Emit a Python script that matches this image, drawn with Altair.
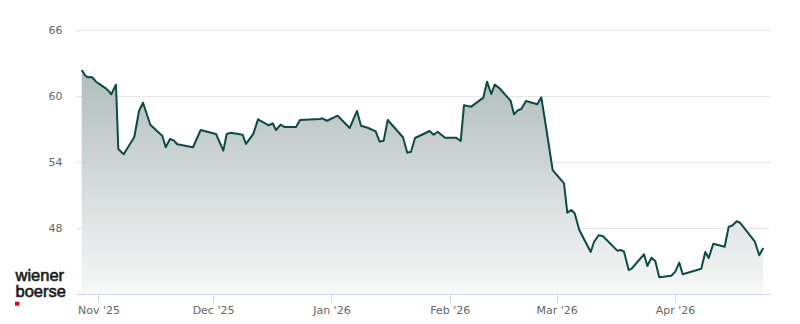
import altair as alt
import pandas as pd

# Days since 1 Nov 2025 and closing prices
days_since_nov1 = [
    -4.40, -3.54, -2.83, -2.04, -1.52, -0.65, 0.47, 1.89, 2.57, 3.35, 3.98, 4.58,
    5.19, 6.60, 9.38, 10.61, 11.66, 13.57, 15.24, 16.71, 17.60, 18.73, 19.70, 20.64,
    24.75, 26.77, 30.78, 32.69, 33.58, 34.63, 37.77, 38.63, 40.54, 41.78, 44.58,
    45.63, 46.49, 47.72, 48.77, 51.73, 52.78, 58.01, 58.62, 59.85, 62.65, 65.79,
    67.71, 68.75, 70.67, 72.60, 73.65, 74.70, 75.75, 79.75, 80.88, 81.85, 82.90,
    86.75, 87.80, 88.84, 90.75, 93.64, 94.87, 95.73, 97.64, 100.79, 101.76, 102.88,
    103.77, 104.98, 107.96, 108.83, 109.87, 110.74, 111.97, 114.93, 115.98, 117.34,
    118.96, 121.92, 122.79, 123.83, 124.72, 125.93, 128.92, 129.78, 131.01, 132.06,
    135.88, 136.77, 137.64, 138.87, 139.73, 142.88, 143.76, 144.81, 145.83, 146.88,
    150.02, 151.07, 152.12, 153.01, 157.88, 158.93, 159.82, 161.03, 164.01, 165.06,
    165.92, 167.16, 168.02, 171.87, 173.07, 174.12,
]
prices = [
    62.36, 61.88, 61.70, 61.73, 61.66, 61.30, 61.03, 60.70, 60.48, 60.15, 60.61, 61.03,
    55.18, 54.70, 56.27, 58.64, 59.39, 57.39, 56.85, 56.39, 55.34, 56.09, 55.97, 55.61,
    55.34, 56.91, 56.55, 55.03, 56.55, 56.66, 56.48, 55.64, 56.55, 57.88, 57.34,
    57.52, 56.91, 57.39, 57.18, 57.18, 57.82, 57.91, 57.97, 57.75, 58.21, 57.09,
    58.64, 57.30, 57.09, 56.79, 55.85, 55.94, 57.82, 56.25, 54.85, 54.94, 56.18,
    56.82, 56.48, 56.75, 56.21, 56.21, 55.91, 59.15, 59.03, 59.85, 61.30, 60.18,
    61.03, 60.73, 59.55, 58.34, 58.70, 58.82, 59.55, 59.25, 59.88, 56.91,
    53.27, 52.06, 49.39, 49.64, 49.34, 47.82, 45.82, 46.73, 47.34, 47.27,
    45.94, 46.00, 45.85, 44.18, 44.34, 45.61, 44.55, 45.30, 45.00, 43.52,
    43.66, 44.03, 44.85, 43.79, 44.30, 45.82, 45.27, 46.57, 46.30, 48.12,
    48.21, 48.61, 48.48, 46.79, 45.52, 46.18,
]
y_ticks = [48, 54, 60, 66]
month_ticks = [(2025, 11), (2025, 12), (2026, 1), (2026, 2), (2026, 3), (2026, 4)]
logo_lines = ["wiener", "boerse"]

base = pd.Timestamp("2025-11-01")
dates = [(base + pd.to_timedelta(d, unit="D")).strftime("%Y-%m-%dT%H:%M:%SZ") for d in days_since_nov1]
df = pd.DataFrame({"date": dates, "price": prices})

LINE = "#0e4a45"
x_scale = alt.Scale(
    type="utc",
    domain=[
        alt.DateTime(year=2025, month=10, date=25, hours=20, minutes=17, utc=True),
        alt.DateTime(year=2026, month=4, date=25, hours=21, minutes=7, utc=True),
    ],
)
y_scale = alt.Scale(domain=[42, 66], zero=False, nice=False)

x_axis = alt.Axis(
    values=[alt.DateTime(year=y, month=m, date=1, utc=True) for y, m in month_ticks],
    format="%b '%y",
    title=None,
    grid=False,
    domainColor="#ccd6eb",
    domainWidth=1,
    tickColor="#ccd6eb",
    tickSize=8,
    labelPadding=2,
    labelColor="#666666",
    labelFont="DejaVu Sans",
    labelFontSize=11,
    labelOverlap=False,
)
y_axis = alt.Axis(
    values=y_ticks,
    title=None,
    domain=False,
    ticks=False,
    tickSize=0,
    labelPadding=13,
    labelColor="#666666",
    labelFont="DejaVu Sans",
    labelFontSize=11,
    gridColor="#e6e6e6",
    gridWidth=1,
)

base_chart = alt.Chart(df)

area = base_chart.mark_area(
    color=alt.Gradient(
        gradient="linear",
        stops=[
            alt.GradientStop(color="#b0bdbb", offset=0),
            alt.GradientStop(color="#f7f8f8", offset=1),
        ],
        x1=0, x2=0, y1=0, y2=1,
    )
).encode(
    x=alt.X("date:T", scale=x_scale, axis=x_axis),
    y=alt.Y("price:Q", scale=y_scale, axis=y_axis),
    y2=alt.datum(42),
)

line = base_chart.mark_line(color=LINE, strokeWidth=2, strokeJoin="round").encode(
    x=alt.X("date:T", scale=x_scale),
    y=alt.Y("price:Q", scale=y_scale),
)

logo_data = alt.Data(values=[{"a": 1}])
logo_style = dict(
    align="left", baseline="alphabetic", font="Liberation Sans", fontSize=16.5,
    color="#1a1a1a", stroke="#1a1a1a", strokeWidth=0.6,
)
logo1 = alt.Chart(logo_data).mark_text(**logo_style).encode(
    x=alt.value(-59.5), y=alt.value(250.6), text=alt.value(logo_lines[0])
)
logo2 = alt.Chart(logo_data).mark_text(**logo_style).encode(
    x=alt.value(-59.5), y=alt.value(267.2), text=alt.value(logo_lines[1])
)
logo_sq = alt.Chart(logo_data).mark_rect(color="#e2001a").encode(
    x=alt.value(-60), x2=alt.value(-55.7), y=alt.value(271.7), y2=alt.value(275.7)
)

chart = alt.layer(area, line, logo1, logo2, logo_sq).properties(
    width=695,
    height=264,
    padding={"left": 75, "top": 30, "right": 30, "bottom": 30},
    autosize=alt.AutoSizeParams(type="none"),
    background="white",
).configure_view(stroke=None)

chart.save("out.html", embed_options={"renderer": "svg", "actions": False})
